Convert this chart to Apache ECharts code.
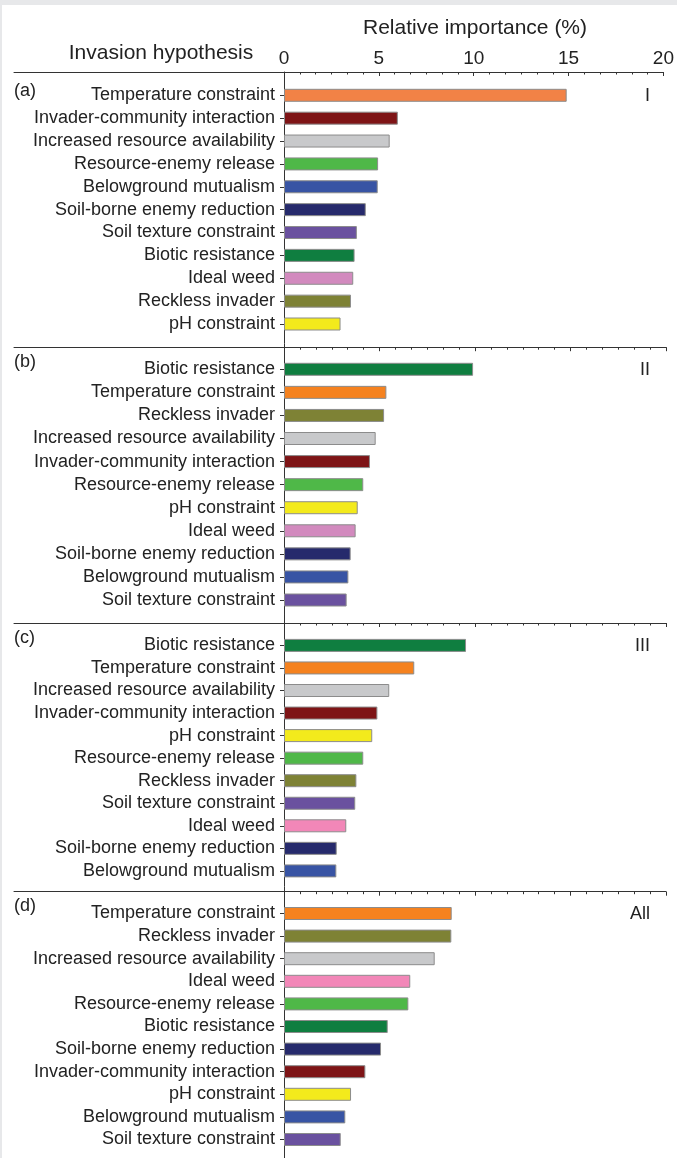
<!DOCTYPE html>
<html>
<head>
<meta charset="utf-8">
<script src="https://cdn.jsdelivr.net/npm/echarts@6/dist/echarts.min.js"></script>
<style>
html,body{margin:0;padding:0;background:#fff;}
#chart{position:absolute;left:0;top:0;width:677px;height:1158px;background:#fff;}
#frame{position:absolute;left:0;top:0;width:677px;height:1158px;box-sizing:border-box;border-top:5px solid #e7e8ea;border-left:2px solid #e7e8ea;pointer-events:none;z-index:10;}
</style>
</head>
<body>
<div id="chart"></div>
<div id="frame"></div>
<script>
// ---- data ----
const axisTitle = 'Relative importance (%)';
const rowTitle = 'Invasion hypothesis';
const xMin = 0, xMax = 20, xInterval = 5;

const panelLabels = ['(a)', '(b)', '(c)', '(d)'];
const groupLabels = ['I', 'II', 'III', 'All'];

const catsA = ['Temperature constraint','Invader-community interaction','Increased resource availability','Resource-enemy release','Belowground mutualism','Soil-borne enemy reduction','Soil texture constraint','Biotic resistance','Ideal weed','Reckless invader','pH constraint'];
const valsA = [14.9, 6.0, 5.57, 4.96, 4.94, 4.31, 3.84, 3.72, 3.65, 3.53, 2.98];

const catsB = ['Biotic resistance','Temperature constraint','Reckless invader','Increased resource availability','Invader-community interaction','Resource-enemy release','pH constraint','Ideal weed','Soil-borne enemy reduction','Belowground mutualism','Soil texture constraint'];
const valsB = [9.9, 5.36, 5.24, 4.8, 4.5, 4.15, 3.86, 3.75, 3.49, 3.37, 3.28];

const catsC = ['Biotic resistance','Temperature constraint','Increased resource availability','Invader-community interaction','pH constraint','Resource-enemy release','Reckless invader','Soil texture constraint','Ideal weed','Soil-borne enemy reduction','Belowground mutualism'];
const valsC = [9.53, 6.82, 5.51, 4.89, 4.62, 4.15, 3.79, 3.73, 3.26, 2.76, 2.74];

const catsD = ['Temperature constraint','Reckless invader','Increased resource availability','Ideal weed','Resource-enemy release','Biotic resistance','Soil-borne enemy reduction','Invader-community interaction','pH constraint','Belowground mutualism','Soil texture constraint'];
const valsD = [8.78, 8.76, 7.89, 6.61, 6.51, 5.43, 5.08, 4.26, 3.51, 3.21, 2.97];

// ---- styles ----
const colorMap = {
  'Temperature constraint': '#F5821F',
  'Invader-community interaction': '#7E1416',
  'Increased resource availability': '#C8C9CB',
  'Resource-enemy release': '#4FB848',
  'Belowground mutualism': '#3854A4',
  'Soil-borne enemy reduction': '#262A6C',
  'Soil texture constraint': '#6A519F',
  'Biotic resistance': '#0F7E40',
  'Ideal weed': '#D28ABE',
  'Reckless invader': '#7E8235',
  'pH constraint': '#F3EA1C'
};
const overrides = [
  {'Temperature constraint': '#F28246'},
  {},
  {'Ideal weed': '#F287B8'},
  {'Ideal weed': '#F287B8'}
];

const FONT = 'Liberation Sans, Arial, sans-serif';
const TXT = '#222';

// layout of panels (pixel positions)
const panelLayout = [
  {line: 72,    first: 95.3,  step: 22.87},
  {line: 347.2, first: 369.3, step: 23.07},
  {line: 623,   first: 645.4, step: 22.55},
  {line: 891.7, first: 913.5, step: 22.6}
];
const AX_LEFT = 284, AX_WIDTH = 382;

const panels = [
  {cats: catsA, vals: valsA},
  {cats: catsB, vals: valsB},
  {cats: catsC, vals: valsC},
  {cats: catsD, vals: valsD}
];

const grid = [], xAxis = [], yAxis = [], series = [], title = [];

panels.forEach((p, i) => {
  const L = panelLayout[i];
  const top = L.first - L.step / 2;
  const height = L.step * p.cats.length;
  const gi = grid.length;
  grid.push({left: AX_LEFT, width: AX_WIDTH, top: top, height: height});
  xAxis.push({
    gridIndex: gi, type: 'value', position: 'top', offset: top - L.line,
    min: xMin, max: xMax, interval: xInterval,
    axisLine: {show: true, onZero: false, lineStyle: {color: '#333', width: 1}},
    axisTick: {show: true, inside: true, length: 4, lineStyle: {color: '#333'}},
    minorTick: {show: true, splitNumber: 6, length: 2.5, lineStyle: {color: '#333'}},
    splitLine: {show: false},
    axisLabel: {show: i === 0, margin: 4, color: TXT, fontSize: 19, fontFamily: FONT}
  });
  yAxis.push({
    gridIndex: gi, type: 'category', inverse: true, data: p.cats,
    axisLine: {show: false},
    axisTick: {show: true, alignWithLabel: true, length: 4, lineStyle: {color: '#333'}},
    axisLabel: {interval: 0, margin: 9, color: TXT, fontSize: 18, fontFamily: FONT}
  });
  series.push({
    type: 'bar', xAxisIndex: gi, yAxisIndex: gi, barWidth: 13,
    data: p.vals.map((v, k) => ({
      value: v,
      itemStyle: {color: overrides[i][p.cats[k]] || colorMap[p.cats[k]]}
    })),
    itemStyle: {borderColor: '#8c8c8c', borderWidth: 1},
    emphasis: {disabled: true},
    silent: true
  });
  // left separator line (label area)
  const si = grid.length;
  grid.push({left: 14, width: AX_LEFT - 14, top: L.line, height: 10});
  xAxis.push({
    gridIndex: si, type: 'value', position: 'top',
    axisLine: {show: true, onZero: false, lineStyle: {color: '#333', width: 1}},
    axisTick: {show: false}, axisLabel: {show: false}, splitLine: {show: false}
  });
  yAxis.push({gridIndex: si, type: 'value', show: false});
  // panel letter
  title.push({
    text: panelLabels[i], left: 14, top: L.first - (i === 0 ? 4 : 7), padding: 0,
    textVerticalAlign: 'middle', textAlign: 'left',
    textStyle: {fontSize: 18, fontWeight: 'normal', color: TXT, fontFamily: FONT}
  });
  // group label
  title.push({
    text: groupLabels[i], left: 650, top: L.first + 1, padding: 0,
    textVerticalAlign: 'middle', textAlign: 'right',
    textStyle: {fontSize: 18, fontWeight: 'normal', color: TXT, fontFamily: FONT}
  });
});

// full-height vertical axis line
const vi = grid.length;
grid.push({left: AX_LEFT, width: AX_WIDTH, top: 72, height: 1158 - 72});
xAxis.push({gridIndex: vi, type: 'value', show: false, min: 0, max: 1});
yAxis.push({
  gridIndex: vi, type: 'value', min: 0, max: 1,
  axisLine: {show: true, onZero: false, lineStyle: {color: '#333', width: 1}},
  axisTick: {show: false}, axisLabel: {show: false}, splitLine: {show: false}
});

title.push({
  text: axisTitle, left: 475, top: 28, padding: 0,
  textAlign: 'center', textVerticalAlign: 'middle',
  textStyle: {fontSize: 21, fontWeight: 'normal', color: TXT, fontFamily: FONT}
});
title.push({
  text: rowTitle, left: 161, top: 53, padding: 0,
  textAlign: 'center', textVerticalAlign: 'middle',
  textStyle: {fontSize: 21, fontWeight: 'normal', color: TXT, fontFamily: FONT}
});

const chart = echarts.init(document.getElementById('chart'), null, {renderer: 'canvas'});
chart.setOption({
  animation: false,
  backgroundColor: '#fff',
  title: title,
  grid: grid,
  xAxis: xAxis,
  yAxis: yAxis,
  series: series
});
</script>
</body>
</html>
